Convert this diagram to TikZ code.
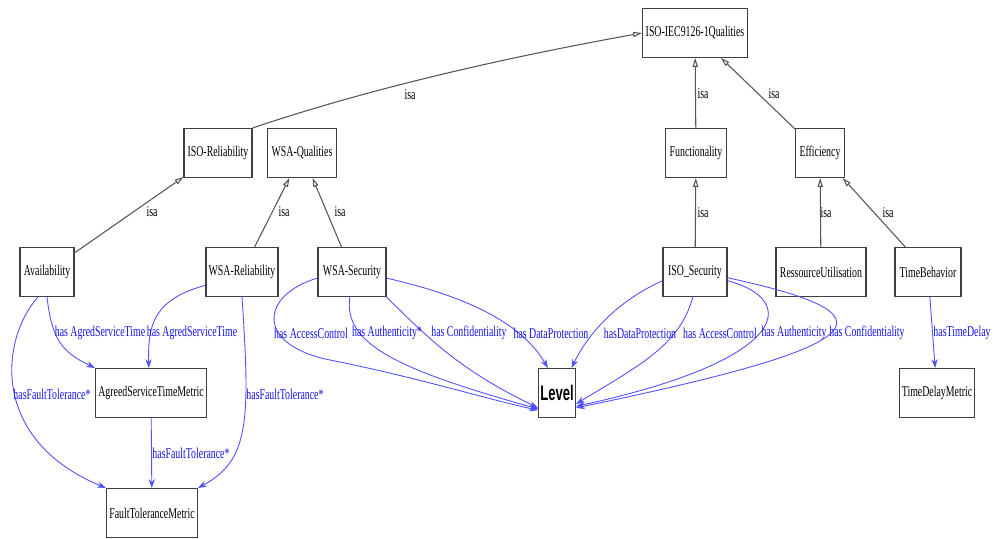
\documentclass[tikz,border=0pt]{standalone}
\usepackage{xcolor}
\usepackage{fontspec}
\setmainfont{Liberation Serif}
\newfontfamily\clsfont[FakeStretch=0.66]{Liberation Serif}
\newfontfamily\lvlfont[FakeStretch=0.62]{Liberation Sans}
\usepackage{tikz}
\usetikzlibrary{positioning,arrows.meta}
\definecolor{PropBlue}{RGB}{80,80,255}
\definecolor{LabelBlue}{RGB}{20,20,235}
\definecolor{IsaGray}{RGB}{85,85,85}

\begin{document}
\begin{tikzpicture}[x=0.02cm, y=-0.02cm,
    cls/.style={draw=black!75, line width=0.6pt, fill=white, minimum height=0.98cm, inner sep=1pt, font=\clsfont\fontsize{8.5}{9}\selectfont},
    isa/.style={draw=IsaGray, line width=0.6pt, -{Triangle[open, length=5pt, width=3pt]}},
    prop/.style={draw=PropBlue, line width=0.5pt, -{Stealth[length=5pt, width=3.5pt]}},
    isalbl/.style={inner sep=0pt, font=\clsfont\fontsize{8.5}{9}\selectfont},
    proplbl/.style={inner sep=0pt, text=LabelBlue, font=\clsfont\fontsize{8.5}{9}\selectfont}
    ]
    \useasboundingbox (0,0) rectangle (994,538);

    \node[cls, minimum width=2.1cm] (iec) at (695,33) {ISO-IEC9126-1Qualities};
    \node[cls, minimum width=1.36cm] (isorel) at (218,153) {ISO-Reliability};
    \node[cls, minimum width=1.38cm] (wsaqual) at (302,153) {WSA-Qualities};
    \node[cls, minimum width=1.22cm] (func) at (696,153) {Functionality};
    \node[cls, minimum width=0.98cm] (eff) at (820,153) {Efficiency};
    \node[cls, minimum width=1.08cm] (avail) at (47,272) {Availability};
    \node[cls, minimum width=1.44cm] (wsarel) at (242,272) {WSA-Reliability};
    \node[cls, minimum width=1.36cm] (wsasec) at (352,272) {WSA-Security};
    \node[cls, minimum width=1.28cm] (isosec) at (695,272) {ISO\_Security};
    \node[cls, minimum width=1.8cm] (resutil) at (821,272) {RessourceUtilisation};
    \node[cls, minimum width=1.32cm] (timebeh) at (928,272) {TimeBehavior};
    \node[cls, minimum width=2.22cm] (astm) at (151,393) {AgreedServiceTimeMetric};
    \node[cls, minimum width=0.72cm, font=\lvlfont\bfseries\fontsize{12}{13}\selectfont] (level) at (557,393) {Level};
    \node[cls, minimum width=1.5cm] (tdm) at (937,393) {TimeDelayMetric};
    \node[cls, minimum width=1.82cm] (ftm) at (152,513) {FaultToleranceMetric};

    % isa links
    \draw[isa] (isorel.north east) .. controls (380,85) and (520,55) .. (iec.west);
    \draw[isa] (avail) -- (isorel);
    \draw[isa] (wsarel) -- (wsaqual);
    \draw[isa] (wsasec) -- (wsaqual);
    \draw[isa] (func) -- (iec);
    \draw[isa] (eff) -- (iec);
    \draw[isa] (isosec) -- (func);
    \draw[isa] (resutil) -- (eff);
    \draw[isa] (timebeh) -- (eff);
    \node[isalbl] (isa1) at (410,95) {isa};
    \node[isalbl] (isa2) at (152,212) {isa};
    \node[isalbl] (isa3) at (284,212) {isa};
    \node[isalbl] (isa4) at (340,212) {isa};
    \node[isalbl] (isa5) at (703,94) {isa};
    \node[isalbl] (isa6) at (774,94) {isa};
    \node[isalbl] (isa7) at (703,213) {isa};
    \node[isalbl] (isa8) at (826,213) {isa};
    \node[isalbl] (isa9) at (888,213) {isa};

    % properties
    \draw[prop] (avail.south) .. controls (52,340) and (62,352) .. (astm.north west);
    \draw[prop] (wsarel.200) .. controls (150,300) and (148,330) .. (astm.95);
    \draw[prop] (avail.250) .. controls (0,340) and (-10,440) .. (ftm.north west);
    \draw[prop] (wsarel.south) .. controls (250,420) and (250,460) .. (ftm.north east);
    \draw[prop] (astm) -- (ftm);
    \draw[prop] (timebeh) -- (tdm);
    \node[proplbl] (p1) at (100,333) {has AgredServiceTime};
    \node[proplbl] (p2) at (192,333) {has AgredServiceTime};
    \node[proplbl] (p3) at (52,394) {hasFaultTolerance*};
    \node[proplbl] (p4) at (285,394) {hasFaultTolerance*};
    \node[proplbl] (p5) at (191,453) {hasFaultTolerance*};
    \node[proplbl] (p6) at (962,333) {hasTimeDelay};

    \draw[prop] (wsasec.190) .. controls (260,295) and (255,345) .. (330,360) .. controls (420,378) and (490,400) .. (level.222);
    \draw[prop] (wsasec.265) .. controls (343,345) and (400,370) .. (level.220);
    \draw[prop] (wsasec.south east) .. controls (430,340) and (460,370) .. (level.218);
    \draw[prop] (wsasec.350) .. controls (460,295) and (520,320) .. (level.110);
    \node[proplbl] (p7) at (311,333) {has AccessControl};
    \node[proplbl] (p8) at (387,333) {has Authenticity*};
    \node[proplbl] (p9) at (469,333) {has Confidentiality};
    \node[proplbl] (p10) at (551,333) {has DataProtection};

    \draw[prop] (isosec.195) .. controls (620,300) and (590,330) .. (level.60);
    \draw[prop] (isosec.265) .. controls (680,345) and (640,365) .. (level.-30);
    \draw[prop] (isosec.-15) .. controls (800,300) and (790,360) .. (level.-35);
    \draw[prop] (isosec.-10) .. controls (900,315) and (880,345) .. (level.-38);
    \node[proplbl] (p11) at (640,333) {hasDataProtection};
    \node[proplbl] (p12) at (720,333) {has AccessControl};
    \node[proplbl] (p13) at (794,333) {has Authenticity};
    \node[proplbl] (p14) at (867,333) {has Confidentiality};
\end{tikzpicture}
\end{document}
